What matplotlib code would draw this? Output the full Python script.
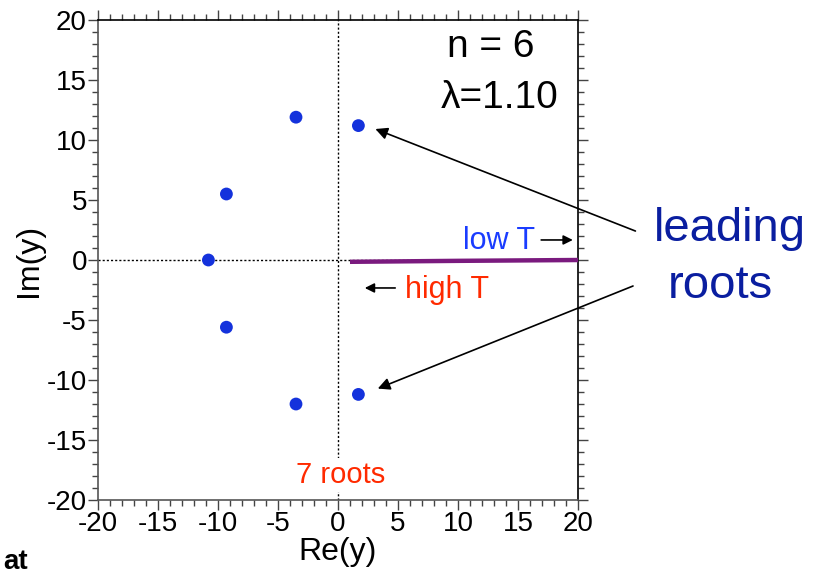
import matplotlib
matplotlib.use("Agg")
import matplotlib.pyplot as plt
from matplotlib.ticker import MultipleLocator

plt.rcParams['font.family'] = ['Liberation Sans', 'DejaVu Sans']
plt.rcParams['axes.unicode_minus'] = False

# roots of the polynomial (Re, Im)
root_re = [-10.8, -9.3, -9.3, -3.5, -3.5, 1.7, 1.7]
root_im = [0.0, 5.5, -5.6, 11.9, -12.0, 11.2, -11.2]

# real-axis locus (low T -> high T)
locus_re = [1.0, 10.0, 20.0]
locus_im = [-0.15, -0.07, 0.0]

fig = plt.figure(figsize=(8.25, 5.76), dpi=100)
ax = fig.add_axes([0.1188, 0.1319, 0.5818, 0.8334])

ax.axhline(0, color='black', lw=1, ls=(0, (1.5, 1.5)), zorder=1)
ax.axvline(0, color='black', lw=1, ls=(0, (1.5, 1.5)), zorder=1)

ax.plot(locus_re, locus_im, color='#7a1a7e', lw=3.2, solid_capstyle='butt', zorder=3)
ax.scatter(root_re, root_im, s=85, color='#1432dc', zorder=4, edgecolors='none')

ax.set_xlim(-20, 20)
ax.set_ylim(-20, 20)
ax.xaxis.set_major_locator(MultipleLocator(5))
ax.yaxis.set_major_locator(MultipleLocator(5))
ax.xaxis.set_minor_locator(MultipleLocator(1))
ax.yaxis.set_minor_locator(MultipleLocator(1))
ax.tick_params(which='both', direction='out', top=True, right=True,
               labeltop=False, labelright=False, colors='#444444', labelcolor='black')
ax.tick_params(which='major', length=7, width=1, labelsize=20, pad=1)
ax.tick_params(which='minor', length=4, width=1)
for side in ['left', 'bottom']:
    ax.spines[side].set_color('#555555')
for side in ['top', 'right']:
    ax.spines[side].set_color('black')
for sp in ax.spines.values():
    sp.set_linewidth(1.2)

ax.set_xlabel('Re(y)', fontsize=23, labelpad=0)
ax.set_ylabel('Im(y)', fontsize=23, labelpad=2)

ax.text(12.7, 17.75, 'n = 6', fontsize=28, ha='center', va='center')
ax.text(13.5, 13.5, 'λ=1.10', fontsize=28, ha='center', va='center')

ax.text(0.2, -17.9, '7 roots', fontsize=21, color='#ff2a00', ha='center', va='center',
        bbox=dict(facecolor='white', edgecolor='none', pad=2), zorder=5)

ax.text(16.4, 1.6, 'low T', fontsize=22, color='#1a3cff', ha='right', va='center')
ax.annotate('', xy=(19.8, 1.67), xytext=(16.7, 1.67),
            arrowprops=dict(arrowstyle='-|>', color='black', lw=1.2, mutation_scale=14))
ax.text(5.6, -2.5, 'high T', fontsize=22, color='#ff2a00', ha='left', va='center')
ax.annotate('', xy=(2.0, -2.33), xytext=(5.0, -2.33),
            arrowprops=dict(arrowstyle='-|>', color='black', lw=1.2, mutation_scale=14))

ax.text(26.3, 2.6, 'leading', fontsize=34, color='#0a1ea0', ha='left', va='center')
ax.text(27.5, -2.2, 'roots', fontsize=34, color='#0a1ea0', ha='left', va='center')
ax.annotate('', xy=(2.9, 11.0), xytext=(25.0, 2.33), annotation_clip=False,
            arrowprops=dict(arrowstyle='-|>', color='black', lw=1.2, mutation_scale=18))
ax.annotate('', xy=(3.1, -10.8), xytext=(24.8, -2.08), annotation_clip=False,
            arrowprops=dict(arrowstyle='-|>', color='black', lw=1.2, mutation_scale=18))

fig.text(0.004, 0.002, 'at', fontsize=20, fontweight='bold', ha='left', va='bottom')

fig.savefig('out.png', dpi=100)
